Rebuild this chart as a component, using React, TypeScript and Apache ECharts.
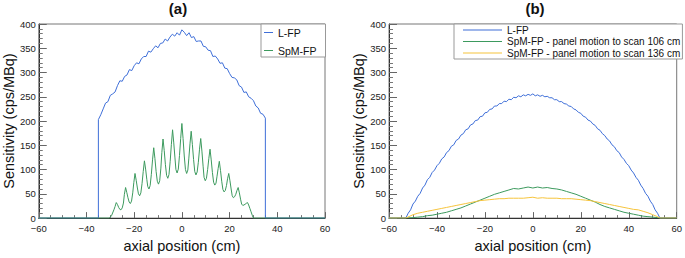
import React, { useEffect, useRef } from "react";
import * as echarts from "echarts";

const FONT = '"Liberation Sans", Arial, Helvetica, sans-serif';

const BLUE = "#3f6fd8";
const GREEN = "#3d9a5e";
const YELLOW = "#f6c43c";

// ---------- Panel (a) ----------
const lfpAX = [-60, -35, -35, -34, -33, -32, -31, -30, -29, -28, -27, -26, -25, -24, -23, -22, -21, -20, -19, -18, -17, -16, -15, -14, -13, -12, -11, -10, -9, -8, -7, -6, -5, -4, -3, -2, -1, 0, 1, 2, 3, 4, 5, 6, 7, 8, 9, 10, 11, 12, 13, 14, 15, 16, 17, 18, 19, 20, 21, 22, 23, 24, 25, 26, 27, 28, 29, 30, 31, 32, 33, 34, 35, 35, 60];
const lfpAY = [0, 0, 203, 213, 225, 237, 240, 253, 256, 260, 273, 283, 282, 292, 295, 306, 304, 314, 320, 318, 328, 333, 333, 344, 342, 349, 355, 351, 360, 361, 369, 365, 373, 379, 375, 382, 377, 388, 383, 376, 382, 372, 374, 364, 365, 365, 354, 353, 346, 345, 333, 334, 328, 319, 320, 309, 308, 298, 290, 289, 285, 273, 270, 259, 260, 250, 247, 242, 231, 227, 216, 214, 206, 0, 0];

const spmAX = [-60, -30.4, -29.5, -28.5, -28, -27.5, -27, -26.5, -26, -25.55, -25, -24.5, -24.1, -23.6, -23.1, -22.6, -22.1, -21.6, -21.1, -20.6, -20.15, -19.65, -19.15, -18.65, -18.2, -17.7, -17.2, -16.7, -16.2, -15.7, -15.2, -14.7, -14.3, -13.8, -13.3, -12.8, -12.3, -11.8, -11.3, -10.8, -10.3, -9.8, -9.3, -8.8, -8.4, -7.9, -7.4, -6.9, -6.4, -5.9, -5.4, -4.9, -4.4, -3.9, -3.4, -2.9, -2.5, -2.0, -1.5, -1.0, -0.5, 0, 0.5, 1.0, 1.5, 2.0, 2.5, 2.9, 3.4, 3.9, 4.4, 4.9, 5.4, 5.9, 6.4, 6.9, 7.4, 7.9, 8.4, 8.9, 9.3, 9.8, 10.3, 10.8, 11.3, 11.8, 12.3, 12.8, 13.3, 13.8, 14.3, 14.7, 15.2, 15.7, 16.2, 16.7, 17.2, 17.7, 18.2, 18.7, 19.15, 19.65, 20.15, 20.65, 21.1, 21.6, 22.1, 22.6, 23.1, 23.6, 24.1, 24.6, 25.05, 25.55, 26, 26.5, 27, 27.5, 28, 28.5, 29, 29.5, 30, 60];
const spmAY = [0, 0, 5, 17, 24, 32, 28, 22, 18, 17, 21, 31, 49, 63, 53, 42, 33, 30, 35, 52, 73, 92, 78, 62, 50, 46, 52, 71, 96, 118, 101, 80, 65, 60, 67, 90, 120, 145, 123, 96, 76, 70, 77, 103, 135, 163, 139, 110, 88, 82, 90, 117, 152, 182, 155, 124, 100, 93, 101, 129, 164, 195, 164, 128, 100, 92, 99, 122, 153, 179, 152, 121, 96, 89, 95, 115, 142, 164, 138, 107, 84, 77, 82, 100, 123, 142, 120, 94, 74, 68, 72, 85, 102, 117, 98, 76, 59, 54, 57, 67, 81, 92, 77, 60, 46, 42, 44, 49, 57, 63, 52, 39, 29, 26, 27, 28.5, 30.5, 32, 27, 20, 13, 6, 0, 0];

// ---------- Panel (b) ----------
const lfpBX = [-60, -53, -52, -51, -50, -49, -48, -47, -46, -45, -44, -43, -42, -41, -40, -39, -38, -37, -36, -35, -34, -33, -32, -31, -30, -29, -28, -27, -26, -25, -24, -23, -22, -21, -20, -19, -18, -17, -16, -15, -14, -13, -12, -11, -10, -9, -8, -7, -6, -5, -4, -3, -2, -1, 0, 1, 2, 3, 4, 5, 6, 7, 8, 9, 10, 11, 12, 13, 14, 15, 16, 17, 18, 19, 20, 21, 22, 23, 24, 25, 26, 27, 28, 29, 30, 31, 32, 33, 34, 35, 36, 37, 38, 39, 40, 41, 42, 43, 44, 45, 46, 47, 48, 49, 50, 51, 52, 53, 60];
const lfpBY = [0, 0, 10, 17, 29, 35, 45, 51, 62, 68, 79, 84, 94, 99, 108, 113, 122, 126, 135, 139, 148, 151, 160, 163, 171, 174, 182, 184, 192, 194, 201, 202, 209, 210, 217, 218, 224, 225, 231, 231, 236, 236, 241, 240, 245, 244, 249, 248, 252, 250, 254, 252, 255, 253, 256, 252, 254, 251, 253, 250, 251, 248, 248, 244, 244, 240, 240, 236, 235, 231, 230, 225, 223, 218, 216, 210, 208, 202, 200, 194, 191, 184, 181, 174, 170, 163, 159, 151, 147, 139, 135, 126, 121, 113, 108, 99, 93, 84, 78, 68, 61, 51, 45, 35, 28, 17, 10, 0, 0];

const spmBX = [-60, -53, -50, -48, -46, -44, -42, -40, -38, -36, -34, -32, -30, -28, -26, -24, -22, -20, -18, -16, -14, -12, -10, -8, -6, -4, -2, 0, 2, 4, 6, 8, 10, 12, 14, 16, 18, 20, 22, 24, 26, 28, 30, 32, 34, 36, 38, 40, 42, 44, 46, 48, 50, 52, 53, 60];
const spm106Y = [0, 0, 1, 2, 3, 5, 6, 8, 10, 12, 15, 18, 21, 25, 29, 33, 37, 41, 45, 49, 52, 55, 58, 61, 60, 62, 64, 62, 64, 62, 63, 61, 60, 58, 55, 52, 49, 45, 41, 37, 33, 28, 24, 21, 18, 15, 12, 10, 8, 6, 4, 3, 2, 1, 0, 0];
const spm136Y = [0, 0, 7, 10, 12, 14, 16, 18, 20, 22, 24, 26, 28, 30, 32, 34, 36, 37, 38, 39, 40, 40, 41, 41, 41, 41, 42, 43, 41, 42, 41, 41, 41, 40, 40, 40, 39, 38, 37, 36, 34, 32, 30, 28, 26, 24, 22, 20, 18, 17, 14, 11, 7, 3, 0, 0];

const xTickValues = [-60, -40, -20, 0, 20, 40, 60];
const yTickValues = [0, 50, 100, 150, 200, 250, 300, 350, 400];

const legendA = ["L-FP", "SpM-FP"];
const legendB = [
  "L-FP",
  "SpM-FP - panel motion to scan 106 cm",
  "SpM-FP - panel motion to scan 136 cm",
];

const pairs = (xs: number[], ys: number[]) => xs.map((x, i) => [x, ys[i]]);
const fmt = (v: number) => (v < 0 ? "\u2212" + Math.abs(v) : String(v));

function makeX(gridIndex: number) {
  return {
    gridIndex,
    type: "value",
    min: xTickValues[0],
    max: xTickValues[xTickValues.length - 1],
    interval: 20,
    axisLine: { onZero: false, lineStyle: { color: "#333", width: 1 } },
    axisTick: { inside: true, length: 6, lineStyle: { color: "#666" } },
    minorTick: { show: true, splitNumber: 4, length: 3, lineStyle: { color: "#777" } },
    splitLine: { show: false },
    axisLabel: { fontSize: 9.5, color: "#222", margin: 5, fontFamily: FONT, formatter: fmt },
    name: "axial position (cm)",
    nameLocation: "middle",
    nameGap: 12,
    nameTextStyle: { fontSize: 14.5, color: "#111", fontFamily: FONT },
  };
}

function makeY(gridIndex: number) {
  return {
    gridIndex,
    type: "value",
    min: yTickValues[0],
    max: yTickValues[yTickValues.length - 1],
    interval: 50,
    axisLine: { show: true, onZero: false, lineStyle: { color: "#333", width: 1 } },
    axisTick: { show: true, inside: true, length: 8, lineStyle: { color: "#666" } },
    minorTick: { show: true, splitNumber: 5, length: 4, lineStyle: { color: "#777" } },
    splitLine: { show: false },
    axisLabel: { fontSize: 9.5, color: "#222", margin: 3, fontFamily: FONT, lineHeight: 10, padding: [0, 0, 3, 0] },
    name: "Sensitivity (cps/MBq)",
    nameLocation: "middle",
    nameRotate: 90,
    nameGap: 22,
    nameTextStyle: { fontSize: 14.5, color: "#111", fontFamily: FONT },
  };
}

function line(name: string, data: number[][], color: string, xi: number) {
  return {
    type: "line",
    name,
    data,
    xAxisIndex: xi,
    yAxisIndex: xi,
    showSymbol: false,
    symbol: "none",
    lineStyle: { color, width: 1 },
    itemStyle: { color },
    silent: true,
  };
}

export default function App() {
  const ref = useRef<HTMLDivElement>(null);
  useEffect(() => {
    if (!ref.current) return;
    const chart = echarts.init(ref.current, null, { renderer: "svg" });
    chart.setOption({
      animation: false,
      backgroundColor: "#fff",
      grid: [
        { left: 36, top: 24, width: 289, height: 207, show: true, borderColor: "#777", borderWidth: 1, backgroundColor: "transparent" },
        { left: 389, top: 24, width: 291, height: 207, show: true, borderColor: "#777", borderWidth: 1, backgroundColor: "transparent" },
      ],
      xAxis: [makeX(0), makeX(1)],
      yAxis: [makeY(0), makeY(1)],
      legend: [
        {
          data: legendA,
          orient: "vertical",
          left: 261,
          top: 24,
          icon: "rect",
          itemWidth: 9,
          itemHeight: 1,
          itemGap: 7,
          selectedMode: false,
          padding: [3, 9, 1, 3],
          borderColor: "#999",
          borderWidth: 1,
          backgroundColor: "#fff",
          textStyle: { fontSize: 10.5, color: "#111", fontFamily: FONT },
        },
        {
          data: legendB,
          orient: "vertical",
          left: 454,
          top: 24,
          icon: "rect",
          itemWidth: 39,
          itemHeight: 1,
          itemGap: 1.5,
          selectedMode: false,
          padding: [1, 2, 1, 9],
          borderColor: "#999",
          borderWidth: 1,
          backgroundColor: "#fff",
          textStyle: { fontSize: 10, color: "#111", fontFamily: FONT },
        },
      ],
      graphic: [
        { type: "text", x: 178, y: 8, style: { text: "(a)", fontSize: 15, fontWeight: "bold", fontFamily: FONT, fill: "#111", align: "center", verticalAlign: "middle" } },
        { type: "text", x: 535, y: 8, style: { text: "(b)", fontSize: 15, fontWeight: "bold", fontFamily: FONT, fill: "#111", align: "center", verticalAlign: "middle" } },
      ],
      series: [
        line("L-FP", pairs(lfpAX, lfpAY), BLUE, 0),
        line("SpM-FP", pairs(spmAX, spmAY), GREEN, 0),
        line("L-FP", pairs(lfpBX, lfpBY), BLUE, 1),
        line(legendB[1], pairs(spmBX, spm106Y), GREEN, 1),
        line(legendB[2], pairs(spmBX, spm136Y), YELLOW, 1),
      ],
    });
    return () => chart.dispose();
  }, []);
  return (
    <div
      ref={ref}
      style={{ position: "fixed", left: 0, top: 0, width: 685, height: 258, background: "#fff" }}
    />
  );
}
